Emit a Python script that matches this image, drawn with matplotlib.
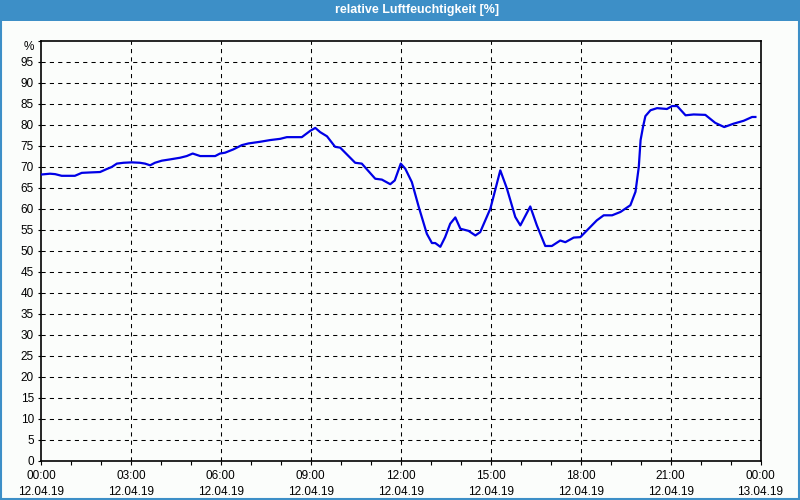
import matplotlib
matplotlib.use("Agg")
import matplotlib.pyplot as plt
from matplotlib.patches import Rectangle
import matplotlib.transforms as mtransforms

hours = [0, 0.3, 0.47, 0.69, 1.13, 1.36, 1.64, 1.97, 2.19, 2.36, 2.53, 2.75, 3.03, 3.3, 3.47, 3.64, 3.8,
         4.03, 4.3, 4.64, 4.86, 5.06, 5.31, 5.81, 5.97, 6.14, 6.42, 6.7, 6.92, 7.31, 7.64, 7.98, 8.2, 8.7,
         8.98, 9.15, 9.31, 9.54, 9.81, 9.98, 10.48, 10.7, 11.15, 11.37, 11.65, 11.8, 12.0, 12.15, 12.37,
         12.6, 12.87, 13.04, 13.15, 13.32, 13.48, 13.65, 13.82, 13.99, 14.26, 14.49, 14.65, 14.99, 15.15,
         15.32, 15.54, 15.82, 15.99, 16.32, 16.54, 16.82, 17.04, 17.32, 17.49, 17.77, 17.99, 18.54, 18.77,
         19.05, 19.33, 19.66, 19.83, 19.94, 20.0, 20.08, 20.16, 20.33, 20.55, 20.88, 21.05, 21.22, 21.5,
         21.77, 22.16, 22.49, 22.79, 23.1, 23.44, 23.72, 23.83]
humidity = [68.1, 68.3, 68.2, 67.8, 67.8, 68.5, 68.6, 68.7, 69.4, 69.9, 70.7, 70.9, 71.0, 70.9, 70.7, 70.3,
            70.9, 71.4, 71.7, 72.1, 72.5, 73.1, 72.5, 72.5, 73.1, 73.3, 74.1, 75.1, 75.5, 75.9, 76.3, 76.6,
            77.0, 77.0, 78.5, 79.2, 78.2, 77.2, 74.7, 74.5, 70.9, 70.7, 67.1, 66.9, 65.8, 66.7, 70.7, 69.5,
            66.3, 60.4, 54.0, 51.8, 51.8, 50.9, 53.2, 56.4, 57.9, 55.2, 54.7, 53.6, 54.4, 60.0, 64.4, 69.1,
            64.8, 58.0, 56.0, 60.5, 56.0, 51.1, 51.1, 52.4, 52.0, 53.1, 53.2, 57.2, 58.4, 58.4, 59.2, 60.8,
            64.0, 69.9, 76.3, 79.4, 82.0, 83.4, 83.9, 83.7, 84.4, 84.4, 82.2, 82.4, 82.3, 80.4, 79.4, 80.2,
            80.9, 81.8, 81.8]

x_ticks = [0, 3, 6, 9, 12, 15, 18, 21, 24]
x_labels = ["00:00\n12.04.19", "03:00\n12.04.19", "06:00\n12.04.19", "09:00\n12.04.19",
            "12:00\n12.04.19", "15:00\n12.04.19", "18:00\n12.04.19", "21:00\n12.04.19",
            "00:00\n13.04.19"]
y_ticks = list(range(0, 105, 5))
y_labels = [str(v) for v in range(0, 100, 5)] + ["%"]
title = "relative Luftfeuchtigkeit [%]"

W, H = 800, 500
bg = "#fbfdfb"
blue_bar = "#3d8fc7"
plt.rcParams["font.family"] = ["Liberation Sans", "DejaVu Sans"]

fig = plt.figure(figsize=(W / 100, H / 100), dpi=100, facecolor=bg)

# title bar and border
fig.patches.append(Rectangle((0, 1 - 20.7 / H), 1, 20.7 / H, transform=fig.transFigure,
                             facecolor=blue_bar, edgecolor="none", zorder=0))
fig.patches.append(Rectangle((0.6 / W, 0.6 / H), 1 - 1.6 / W, 1 - 1.6 / H, transform=fig.transFigure,
                             facecolor="none", edgecolor=blue_bar, linewidth=1.5, zorder=1))
fig.text(417 / W, 1 - 10.5 / H, title, color="white", fontsize=9, fontweight="bold",
         ha="center", va="center")

left, right, top, bottom = 41, 760.5, 40.5, 460.7
ax = fig.add_axes([left / W, 1 - bottom / H, (right - left) / W, (bottom - top) / H])
ax.set_facecolor(bg)
ax.set_xlim(0, 24)
ax.set_ylim(0, 100)

# grid
for y in y_ticks[1:-1]:
    ax.axhline(y, color="black", lw=0.75, linestyle=(0, (4, 4)), zorder=1)
for x in x_ticks[1:-1]:
    ax.axvline(x, color="black", lw=0.75, linestyle=(0, (4, 4)), zorder=1)

ax.plot(hours, humidity, color="#0000e6", lw=1.6, zorder=3)

ax.set_xticks(x_ticks)
ax.set_xticklabels(x_labels, fontsize=8.5, linespacing=1.4)
ax.set_xticks(range(0, 25), minor=True)
ax.tick_params(axis="x", which="major", length=3, width=0.8, pad=4, direction="out")
ax.tick_params(axis="x", which="minor", length=3, width=0.8, direction="out")
ax.set_yticks(y_ticks)
ax.set_yticklabels(y_labels, fontsize=8.5)
ax.tick_params(axis="y", length=2, width=0.8, pad=3)

# shift the "%" label slightly down like the reference
pct = ax.get_yticklabels()[-1]
pct.set_transform(pct.get_transform() + mtransforms.ScaledTranslation(0, -5 / 100, fig.dpi_scale_trans))

for s in ax.spines.values():
    s.set_linewidth(1.2)
    s.set_color("black")

fig.savefig("out.png", dpi=100, facecolor=bg)
